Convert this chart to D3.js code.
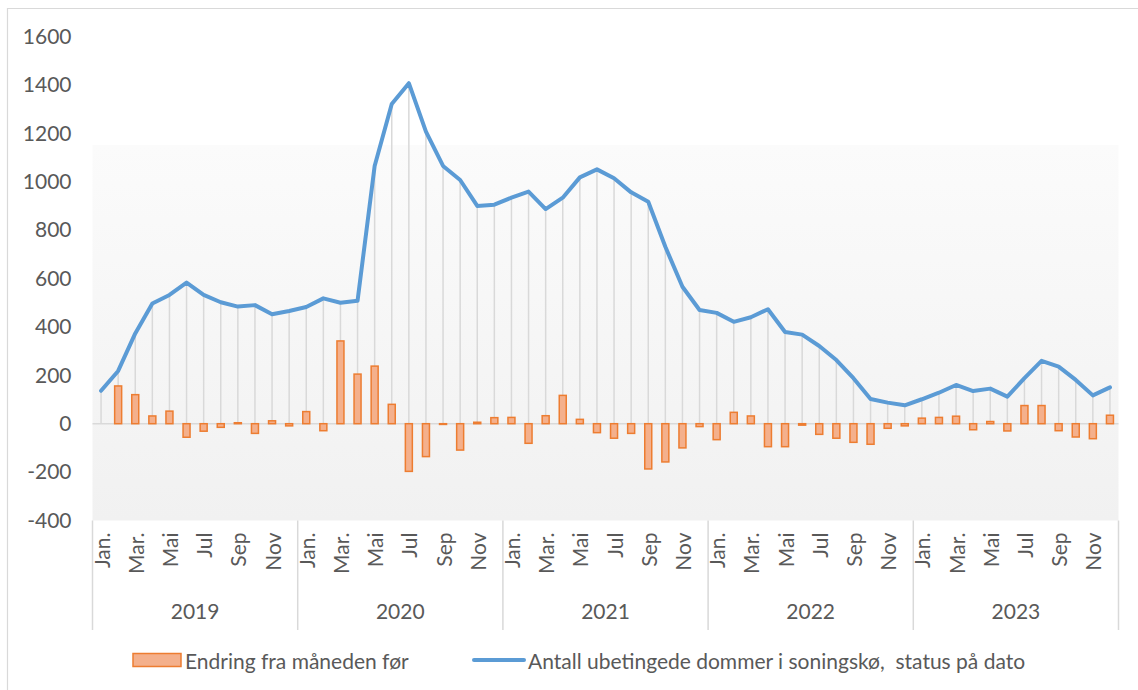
<!DOCTYPE html>
<html>
<head>
<meta charset="utf-8">
<script src="https://cdn.jsdelivr.net/npm/d3@7"></script>
<style>
  body { margin: 0; background: #fff; }
  text { font-family: Lato, "Open Sans", sans-serif; fill: #595959; }
</style>
</head>
<body>
<div id="chart"></div>
<script>
// month / year categories
const months = ["Jan.", "Feb.", "Mar.", "Apr.", "Mai", "Jun.", "Jul", "Aug.", "Sep", "Okt.", "Nov", "Des."];
const years = ["2019", "2020", "2021", "2022", "2023"];

// Antall ubetingede dommer i soningskø (line)
const queueCount = [
    136, 218, 373, 497, 532, 583, 532, 502, 484, 490, 452, 466,
    482, 518, 500, 508, 1065, 1321, 1407, 1207, 1065, 1007, 900, 905,
    934, 959, 887, 934, 1018, 1051, 1014, 956, 917, 731, 566, 470,
    458, 421, 440, 473, 379, 368, 321, 263, 188, 102, 87, 76,
    101, 128, 160, 135, 145, 112, 188, 260, 236, 181, 117, 150
];

// Endring fra måneden før (bars)
const monthlyChange = [
    null, 156, 120, 32, 52, -56, -31, -15, 4, -40, 12, -9,
    50, -29, 342, 205, 238, 80, -197, -136, -3, -109, 6, 25,
    26, -81, 33, 117, 18, -37, -60, -40, -187, -158, -100, -12,
    -66, 47, 32, -95, -95, -6, -44, -60, -77, -85, -19, -9,
    23, 26, 31, -25, 9, -30, 75, 75, -29, -55, -62, 35
];

const yTicks = [-400, -200, 0, 200, 400, 600, 800, 1000, 1200, 1400, 1600];

const legendLabels = ["Endring fra måneden før", "Antall ubetingede dommer i soningskø,  status på dato"];

let data = [];
years.forEach((yr, yi) => {
    months.forEach((m, mi) => {
        let i = yi * 12 + mi;
        data.push({i: i, year: yr, month: m, queue: queueCount[i], change: monthlyChange[i]});
    });
});

const W = 1138, H = 690;
const plot = {left: 92.5, right: 1118.5, top: 36.5, bottom: 520.5};
const fontSize = "21px";

const svg = d3.select("#chart").append("svg")
    .attr("width", W)
    .attr("height", H);

// gradient for plot area
const defs = svg.append("defs");
const grad = defs.append("linearGradient")
    .attr("id", "plotBg")
    .attr("x1", 0).attr("y1", 0).attr("x2", 0).attr("y2", 1);
grad.append("stop").attr("offset", "0%").attr("stop-color", "#ffffff");
grad.append("stop").attr("offset", "22.5%").attr("stop-color", "#ffffff");
grad.append("stop").attr("offset", "22.5%").attr("stop-color", "#fbfbfb");
grad.append("stop").attr("offset", "100%").attr("stop-color", "#f1f1f1");

// chart border
svg.append("path")
    .attr("d", `M7.5,${H} L7.5,8.5 L${W},8.5`)
    .attr("fill", "none")
    .attr("stroke", "#d9d9d9")
    .attr("stroke-width", 1.2);

let x = d3.scaleBand()
    .domain(d3.range(data.length))
    .range([plot.left, plot.right]);

let y = d3.scaleLinear()
    .domain([-400, 1600])
    .range([plot.bottom, plot.top]);

svg.append("rect")
    .attr("x", plot.left)
    .attr("y", plot.top)
    .attr("width", plot.right - plot.left)
    .attr("height", plot.bottom - plot.top)
    .attr("fill", "url(#plotBg)");

// y axis labels
let yAxis = svg.append("g")
    .attr("transform", `translate(${plot.left}, 0)`)
    .call(d3.axisLeft(y)
        .tickValues(yTicks)
        .tickFormat(d => String(d))
        .tickSize(0)
        .tickPadding(21));
yAxis.select(".domain").remove();
yAxis.selectAll("text")
    .style("font-size", fontSize)
    .attr("fill", "#595959");

// zero line
svg.append("line")
    .attr("x1", plot.left).attr("x2", plot.right)
    .attr("y1", y(0)).attr("y2", y(0))
    .attr("stroke", "#d9d9d9")
    .attr("stroke-width", 1.5);

const cx = d => x(d.i) + x.bandwidth() / 2;

// drop lines
svg.append("g")
    .selectAll("line")
    .data(data)
    .enter()
    .append("line")
    .attr("x1", cx).attr("x2", cx)
    .attr("y1", d => y(d.queue))
    .attr("y2", y(0))
    .attr("stroke", "#d9d9d9")
    .attr("stroke-width", 1.5);

// bars
let barW = 7;
svg.append("g")
    .selectAll("rect")
    .data(data.filter(d => d.change !== null))
    .enter()
    .append("rect")
    .attr("x", d => cx(d) - barW / 2)
    .attr("y", d => y(Math.max(0, d.change)))
    .attr("width", barW)
    .attr("height", d => Math.abs(y(d.change) - y(0)))
    .attr("fill", "#f4b08c")
    .attr("stroke", "#ed7d31")
    .attr("stroke-width", 1.5);

// line
svg.append("path")
    .datum(data)
    .attr("fill", "none")
    .attr("stroke", "#5b9bd5")
    .attr("stroke-width", 4)
    .attr("stroke-linejoin", "round")
    .attr("stroke-linecap", "round")
    .attr("d", d3.line().x(cx).y(d => y(d.queue)));

// month labels (every other month)
let xAxis = svg.append("g")
    .attr("transform", `translate(0, ${plot.bottom})`)
    .call(d3.axisBottom(x)
        .tickValues(d3.range(0, data.length, 2))
        .tickFormat(i => months[i % 12])
        .tickSize(0));
xAxis.select(".domain").remove();
xAxis.selectAll("text")
    .style("font-size", fontSize)
    .attr("fill", "#595959")
    .attr("text-anchor", "end")
    .attr("dominant-baseline", "central")
    .attr("transform", "rotate(-90)")
    .attr("x", -12)
    .attr("y", 0)
    .attr("dy", 0);

// year separators + labels
let yearW = (plot.right - plot.left) / years.length;
svg.append("g")
    .selectAll("line")
    .data(d3.range(years.length + 1))
    .enter()
    .append("line")
    .attr("x1", i => plot.left + i * yearW)
    .attr("x2", i => plot.left + i * yearW)
    .attr("y1", plot.bottom)
    .attr("y2", 630)
    .attr("stroke", "#d9d9d9")
    .attr("stroke-width", 1.5);

svg.append("g")
    .selectAll("text")
    .data(years)
    .enter()
    .append("text")
    .attr("x", (d, i) => plot.left + (i + 0.5) * yearW)
    .attr("y", 610)
    .attr("text-anchor", "middle")
    .attr("dominant-baseline", "central")
    .style("font-size", fontSize)
    .text(d => d);

// legend
let legend = svg.append("g");
legend.append("rect")
    .attr("x", 133).attr("y", 653.5)
    .attr("width", 48).attr("height", 13)
    .attr("fill", "#f4b08c")
    .attr("stroke", "#ed7d31")
    .attr("stroke-width", 1.5);
legend.append("text")
    .attr("x", 185).attr("y", 660)
    .attr("dominant-baseline", "central")
    .style("font-size", fontSize)
    .text(legendLabels[0]);
legend.append("line")
    .attr("x1", 474).attr("x2", 524)
    .attr("y1", 660).attr("y2", 660)
    .attr("stroke", "#5b9bd5")
    .attr("stroke-width", 4)
    .attr("stroke-linecap", "round");
legend.append("text")
    .attr("x", 528).attr("y", 660)
    .attr("dominant-baseline", "central")
    .style("font-size", fontSize)
    .style("white-space", "pre")
    .attr("xml:space", "preserve")
    .text(legendLabels[1]);
</script>
</body>
</html>
